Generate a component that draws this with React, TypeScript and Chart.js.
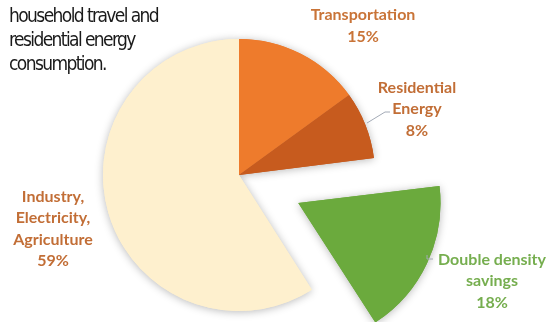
import React, { useEffect, useRef } from "react";
import { Chart, registerables } from "chart.js";

Chart.register(...registerables);

// ---- data ----
const categories = [
  "Transportation",
  "Residential Energy",
  "Double density savings",
  "Industry, Electricity, Agriculture",
];
const shares = [15, 8, 18, 59];
const labelLines = [
  ["Transportation"],
  ["Residential", "Energy"],
  ["Double density", "savings"],
  ["Industry,", "Electricity,", "Agriculture"],
];
const titleLines = ["household travel and", "residential energy", "consumption."];

// ---- styles ----
const sliceColors = ["#EE7B2C", "#C75B1E", "#6BAA3D", "#FEF0CE"];
const labelColors = ["#C97438", "#C26E36", "#76AE4F", "#C26E36"];
// Chart.js translates an arc by offset / 4
const sliceOffsets = [0, 0, 262, 0];
// label block centre relative to pie centre
const labelPos = [
  { dx: 124, dy: -149 },
  { dx: 178, dy: -66 },
  { dx: 253, dy: 106 },
  { dx: -186, dy: 54 },
];
// leader lines relative to pie centre
const leaders: number[][][] = [
  [],
  [[128, -52], [146, -63], [151, -63]],
  [[188, 80], [188, 84], [194, 84]],
  [],
];

const labelPlugin = {
  id: "pieLabels",
  beforeDatasetsDraw(chart: any) {
    const ctx = chart.ctx;
    const meta = chart.getDatasetMeta(0);
    ctx.save();
    ctx.shadowColor = "rgba(0,0,0,0.28)";
    ctx.shadowBlur = 9;
    ctx.shadowOffsetX = 0;
    ctx.shadowOffsetY = 1;
    meta.data.forEach((arc: any) => arc.draw(ctx));
    ctx.restore();
  },
  afterDatasetsDraw(chart: any) {
    const ctx = chart.ctx;
    const meta = chart.getDatasetMeta(0);
    const arc0 = meta.data[0];
    const cx = arc0.x;
    const cy = arc0.y;
    ctx.save();
    ctx.strokeStyle = "#A3AAB6";
    ctx.lineWidth = 1;
    leaders.forEach((pts) => {
      if (!pts.length) return;
      ctx.beginPath();
      pts.forEach((p, i) => {
        if (i === 0) ctx.moveTo(cx + p[0], cy + p[1]);
        else ctx.lineTo(cx + p[0], cy + p[1]);
      });
      ctx.stroke();
    });
    ctx.font = "bold 16px Lato, 'Open Sans', sans-serif";
    ctx.textAlign = "center";
    ctx.textBaseline = "middle";
    const lh = 21.5;
    meta.data.forEach((_arc: any, i: number) => {
      const lines = [...labelLines[i], shares[i] + "%"];
      const pos = labelPos[i];
      const x = cx + pos.dx;
      const y0 = cy + pos.dy - ((lines.length - 1) * lh) / 2;
      ctx.fillStyle = labelColors[i];
      lines.forEach((t, j) => ctx.fillText(t, x, y0 + j * lh));
    });
    ctx.restore();
  },
};

export default function App() {
  const ref = useRef<HTMLCanvasElement>(null);
  useEffect(() => {
    if (!ref.current) return;
    const chart = new Chart(ref.current, {
      type: "pie",
      data: {
        labels: categories,
        datasets: [
          {
            data: shares,
            backgroundColor: sliceColors,
            borderWidth: 0,
            offset: sliceOffsets,
            hoverOffset: 0,
          },
        ],
      },
      options: {
        responsive: false,
        animation: false,
        radius: 136,
        layout: { padding: { left: 0, right: 80, top: 28, bottom: 0 } },
        plugins: {
          legend: { display: false },
          tooltip: { enabled: false },
          title: { display: false },
        },
      } as any,
      plugins: [labelPlugin],
    });
    return () => chart.destroy();
  }, []);

  return (
    <div style={{ position: "fixed", left: 0, top: 0, width: 558, height: 322, background: "#fff" }}>
      <canvas ref={ref} width={558} height={322} style={{ position: "absolute", left: 0, top: 0 }} />
      <div
        style={{
          position: "absolute",
          left: 9,
          top: 3,
          fontFamily: "'DejaVu Sans Condensed', 'DejaVu Sans', sans-serif",
          fontStretch: "condensed",
          fontSize: 19,
          lineHeight: "24px",
          letterSpacing: "-1.6px",
          color: "#1a1a1a",
          whiteSpace: "nowrap",
        }}
      >
        {titleLines.map((t, i) => (
          <div key={i}>{t}</div>
        ))}
      </div>
    </div>
  );
}
